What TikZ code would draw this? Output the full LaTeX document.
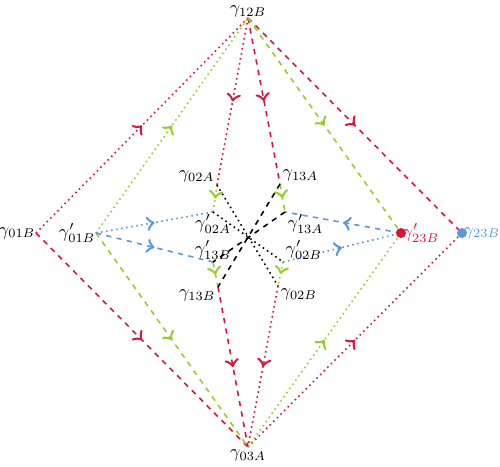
\documentclass[tikz,border=0pt]{standalone}
\usetikzlibrary{decorations.markings}
\definecolor{arcred}{RGB}{220,20,60}
\definecolor{arcgreen}{RGB}{150,205,45}
\definecolor{arcblue}{RGB}{90,150,225}
\begin{document}
\begin{tikzpicture}[line width=0.9pt,
    midarrow/.style={postaction={decorate},decoration={markings,mark=at position 0.5 with {\arrow[scale=1.6]{>}}}},
    lbl/.style={inner sep=1pt, scale=1.03}
  ]
  \useasboundingbox (-4.96,-4.66) rectangle (5.04,4.66);
  % outer and inner points
  \coordinate (g12) at (0,4.3);
  \coordinate (g03) at (0,-4.28);
  \coordinate (g01) at (-4.24,0);
  \coordinate (g23) at (4.28,0);
  \coordinate (p01) at (-3.04,0);
  \coordinate (p23) at (3.06,0);
  \coordinate (g02A) at (-0.62,0.96);
  \coordinate (g13A) at (0.64,0.98);
  \coordinate (p02A) at (-0.7,0.42);
  \coordinate (p13A) at (0.74,0.42);
  \coordinate (p13B) at (-0.7,-0.58);
  \coordinate (p02B) at (0.7,-0.58);
  \coordinate (g13B) at (-0.6,-1.08);
  \coordinate (g02B) at (0.6,-1.06);
  % red
  \draw[arcred, dotted, midarrow] (g01) -- (g12);
  \draw[arcred, dotted, midarrow] (g12) -- (g02A);
  \draw[arcred, dotted, midarrow] (g02B) -- (g03);
  \draw[arcred, dotted, midarrow] (g03) -- (g23);
  \draw[arcred, dashed, midarrow] (g12) -- (g23);
  \draw[arcred, dashed, midarrow] (g01) -- (g03);
  \draw[arcred, dashed, midarrow] (g12) -- (g13A);
  \draw[arcred, dashed, midarrow] (g13B) -- (g03);
  % green
  \draw[arcgreen, dotted, midarrow] (p01) -- (g12);
  \draw[arcgreen, dotted, midarrow] (g03) -- (p23);
  \draw[arcgreen, dotted, midarrow] (g02A) -- (p02A);
  \draw[arcgreen, dotted, midarrow] (p02B) -- (g02B);
  \draw[arcgreen, dashed, midarrow] (g12) -- (p23);
  \draw[arcgreen, dashed, midarrow] (p01) -- (g03);
  \draw[arcgreen, dashed, midarrow] (g13A) -- (p13A);
  \draw[arcgreen, dashed, midarrow] (p13B) -- (g13B);
  % blue
  \draw[arcblue, dotted, midarrow] (p01) -- (p02A);
  \draw[arcblue, dotted, midarrow] (p02B) -- (p23);
  \draw[arcblue, dashed, midarrow] (p01) -- (p13B);
  \draw[arcblue, dashed, midarrow] (p23) -- (p13A);
  % black
  \draw[dotted] (g02A) -- (g02B);
  \draw[dotted] (p02A) -- (p02B);
  \draw[dashed] (g13A) -- (g13B);
  \draw[dashed] (p13A) -- (p13B);
  \fill[arcred] (p23) circle (0.1);
  \fill[arcblue] (g23) circle (0.1);
  % labels
  \node[lbl, above, inner sep=0pt] (l12) at (g12) {$\gamma_{12B}$};
  \node[lbl, below] (l03) at (g03) {$\gamma_{03A}$};
  \node[lbl, left, inner sep=0pt] (l01) at (g01) {$\gamma_{01B}$};
  \node[lbl, left, inner sep=0pt] (lp01) at (p01) {$\gamma'_{01B}$};
  \node[lbl, right, inner sep=0.5pt, arcred] (lp23) at (p23) {$\gamma'_{23B}$};
  \node[lbl, right, inner sep=0.5pt, arcblue] (l23) at (g23) {$\gamma_{23B}$};
  \node[lbl, above left] (l02A) at (g02A) {$\gamma_{02A}$};
  \node[lbl, above right] (l13A) at (g13A) {$\gamma_{13A}$};
  \node[lbl, below] (lp02A) at (p02A) {$\gamma'_{02A}$};
  \node[lbl, below right] (lp13A) at (p13A) {$\gamma'_{13A}$};
  \node[lbl, above] (lp13B) at (p13B) {$\gamma'_{13B}$};
  \node[lbl, above right] (lp02B) at (p02B) {$\gamma'_{02B}$};
  \node[lbl, below left] (l13B) at (g13B) {$\gamma_{13B}$};
  \node[lbl, below right] (l02B) at (g02B) {$\gamma_{02B}$};
\end{tikzpicture}
\end{document}
